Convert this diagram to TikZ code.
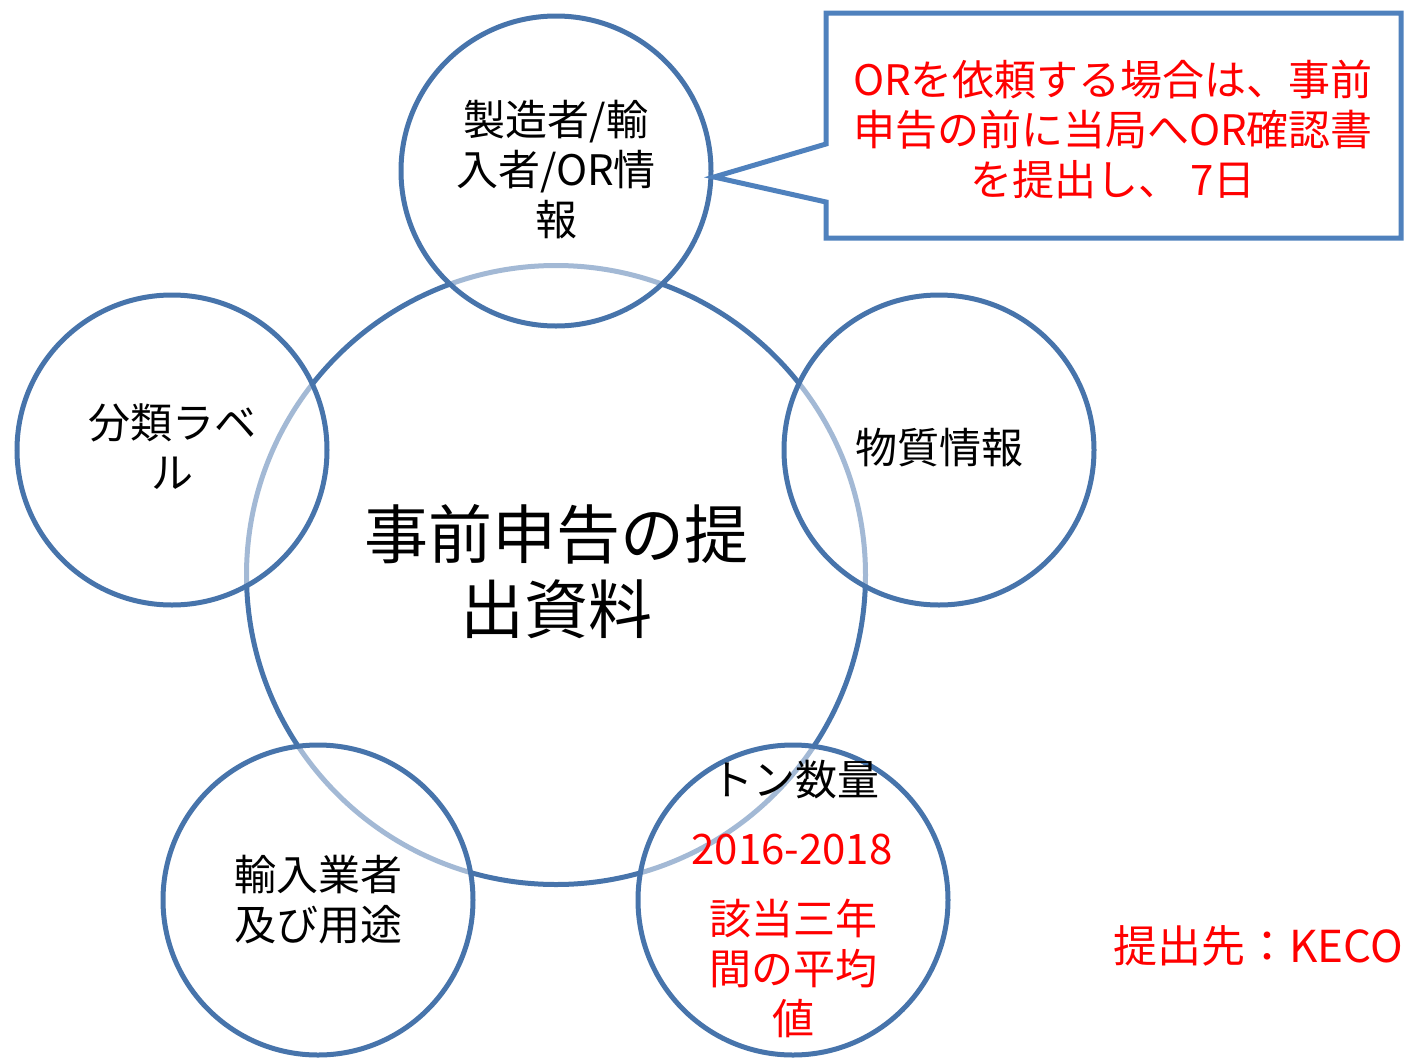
\documentclass[tikz,border=0pt]{standalone}
\usepackage{fontspec}
\setmainfont{Noto Sans CJK JP}
\definecolor{ringblue}{RGB}{71,116,171}
\definecolor{boxblue}{RGB}{79,129,189}
\definecolor{pred}{RGB}{255,0,0}
\tikzset{
  ring/.style={circle,draw=ringblue,line width=5pt,minimum size=310pt,inner sep=0pt},
  smallring/.style={ring,fill=white,fill opacity=0.5,draw opacity=1,text opacity=1},
  lbl/.style={align=center,font=\fontsize{42}{50}\selectfont,inner sep=0pt},
}
\begin{document}
\begin{tikzpicture}[x=1pt,y=-1pt]
\useasboundingbox (0,0) rectangle (1409,1058);
% central circle
\node[ring,minimum size=619pt] (center) at (556,575) {};
% small circles
\node[smallring] (top) at (556,171) {};
\node[smallring] (left) at (172,450) {};
\node[smallring] (right) at (939,450) {};
\node[smallring] (bl) at (318,900) {};
\node[smallring] (br) at (793,900) {};
% callout
\coordinate (tip) at (714,177);
\draw[boxblue,line width=5pt,line join=miter,fill=white] (826,13) -- (1401,13) -- (1401,238) -- (826,238) -- (826,202) -- (tip) -- (826,144) -- cycle;
\node[lbl,text=pred] (calltext) at (1113,129) {ORを依頼する場合は、事前\\申告の前に当局へOR確認書\\を提出し、 7日};
% texts
\node[lbl,font=\fontsize{64}{75}\selectfont] (ctext) at (556,572) {事前申告の提\\出資料};
\node[lbl] (ttext) at (556,170) {製造者/輸\\入者/OR情\\報};
\node[lbl] (ltext) at (172,447) {分類ラベ\\ル};
\node[lbl] (rtext) at (939,448) {物質情報};
\node[lbl] (bltext) at (318,900) {輸入業者\\及び用途};
\node[lbl] (brtop) at (795,780) {トン数量};
\node[lbl,text=pred] (bryears) at (792,850) {2016-2018};
\node[lbl,text=pred] (brtext) at (793,968) {該当三年\\間の平均\\値};
\node[lbl,text=pred,font=\fontsize{44}{50}\selectfont] (dest) at (1258,946) {提出先：KECO};
\end{tikzpicture}
\end{document}
